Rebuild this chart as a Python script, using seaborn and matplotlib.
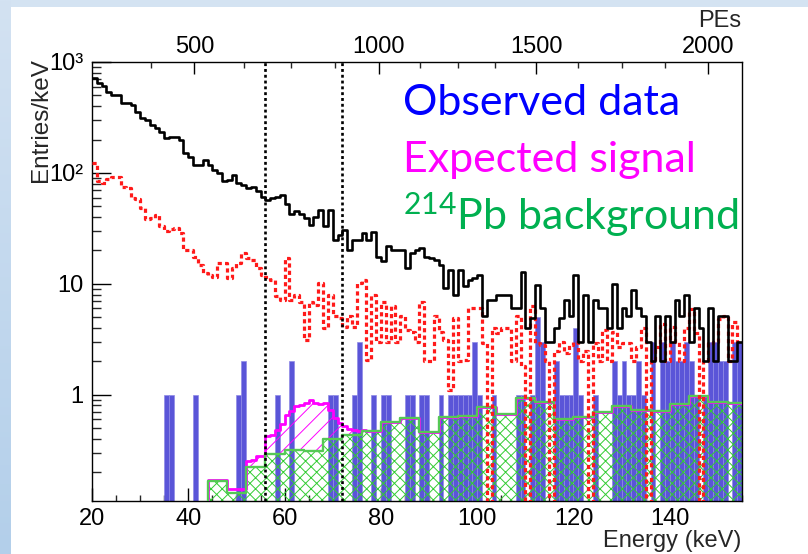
import numpy as np
import pandas as pd
import matplotlib
matplotlib.use("Agg")
import matplotlib.pyplot as plt
import seaborn as sns
from matplotlib.ticker import FixedLocator, MultipleLocator, NullFormatter, LogLocator
from matplotlib.colors import LinearSegmentedColormap, to_rgb

# ---------------- data (entries / keV, 1 keV bins from 20 to 155 keV) ----------------
bin_lo_kev = 20
bin_hi_kev = 155

data_spectrum = [
    713, 651, 608, 540, 504, 500, 425, 425, 410, 357,
    311, 300, 271, 253, 236, 205, 212, 212, 198, 150,
    140, 118, 118, 131, 118, 106, 99, 84, 86, 96,
    81, 78, 73, 75, 68, 61, 57, 59, 61, 63,
    52, 43, 45, 43, 39, 34, 40, 46, 33, 46,
    25, 27.6, 30.6, 20.2, 24.9, 24.9, 28.6, 24.9, 29.6, 17.6,
    15.9, 21.7, 20.2, 20.2, 20.2, 13.8, 18.9, 20.2, 21, 17.6,
    17, 16.5, 14.8, 9.1, 13.4, 8, 13.4, 9.5, 10.9, 11.2,
    12, 5.1, 7.2, 7.2, 8, 8, 8, 6.0, 6.0, 12.9,
    4.0, 4.9, 9.8, 6.0, 3.0, 3.0, 4.0, 4.9, 7.2, 5.1,
    12, 3.0, 8, 3.0, 7.2, 6.0, 6.0, 4.0, 10, 4.0,
    6.0, 5.1, 8.8, 6.0, 5.1, 3.0, 2.0, 5.1, 2.0, 5.1,
    3.0, 7.2, 5.1, 8, 3.0, 6.0, 4.0, 2.0, 6.0, 2.0,
    5.1, 5.1, 2.0, 2.0, 3.0,
]

dotted_spectrum = [
    122, 85, 81, 88, 92, 92, 75, 73, 59, 58,
    48, 38, 39, 42, 33, 30, 31, 32, 28.6, 20,
    20, 17.6, 14.8, 12.5, 12, 11.5, 15.4, 15.4, 11.3, 13.8,
    15.4, 18.9, 17, 16.5, 13.8, 12, 11.6, 10.9, 7.8, 7.2,
    17, 7.2, 8, 6.9, 3.1, 6.9, 6.5, 10.1, 4.0, 8.0,
    5.1, 4.9, 4.1, 5.1, 4.1, 10.1, 10.9, 2.07, 8.0, 3.0,
    6.9, 3.0, 6.3, 3.0, 5.1, 3.85, 3.7, 3.0, 6.9, 2.0,
    2.0, 5.1, 3.7, 3.1, 1.1, 4.9, 2.0, 2.07, 6.0, 6.0,
    6.0, 2.9, 0, 4.0, 3.6, 4.0, 4.0, 2.0, 5.1, 1.8,
    0, 6.3, 2.9, 2.8, 2.0, 0, 2.5, 3.0, 2.4, 2.8,
    3.0, 2.0, 2.5, 0, 2.9, 2.0, 3.8, 2.0, 3.7, 2.7,
    2.9, 2.9, 2.0, 2.7, 4.0, 0, 2.0, 2.7, 4.3, 2.0,
    4.1, 3.0, 2.0, 4.0, 5.9, 3.6, 0, 2.0, 2.9, 3.0,
    4.8, 5.1, 2.0, 4.5, 3.0,
]

observed_data = [
    0, 0, 0, 0, 0, 0, 0, 0, 0, 0,
    0, 0, 0, 0, 0, 1, 1, 0, 0, 0,
    0, 1, 0, 0, 0, 0, 0, 0, 0, 0,
    1, 2, 0, 0, 0, 0, 0, 0, 1, 0,
    0, 2, 0, 0, 0, 0, 0, 0, 0, 1,
    1, 0, 0, 0, 1, 3, 0, 0, 1, 0,
    1, 1, 0, 0, 0, 1, 1, 0, 1, 1,
    0, 0, 1, 0, 1, 1, 1, 1, 1, 3,
    1, 0, 0, 1, 0, 0, 0, 0, 1, 1,
    0, 1, 5, 3, 0, 0, 2, 1, 1, 1,
    4, 1, 0, 0, 1, 0, 0, 0, 2, 1,
    2, 1, 1, 2, 1, 0, 3, 0, 3, 2,
    3, 2, 2, 3, 2, 1, 0, 1, 3, 3,
    2, 2, 0, 3, 3,
]

# 214Pb background, 4 keV bins starting at 20 keV
pb214_bin_kev = 4
pb214_background = [
    0, 0, 0, 0, 0, 0, 0.166, 0.13, 0.224, 0.294,
    0.32, 0.31, 0.40, 0.436, 0.467, 0.563, 0.617, 0.46, 0.625, 0.645,
    0.775, 0.67, 0.93, 0.86, 0.60, 0.625, 0.695, 0.79, 0.73, 0.715,
    0.82, 0.965, 0.86, 0.835,
]

# expected signal, 1 keV bins starting at 44 keV
signal_start_kev = 44
expected_signal = [
    0.005, 0.005, 0.005, 0.005, 0.01, 0.01, 0.01, 0.01, 0.026, 0.036,
    0.056, 0.056, 0.126, 0.142, 0.19, 0.246, 0.34, 0.39, 0.47, 0.49,
    0.54, 0.58, 0.53, 0.52, 0.44, 0.33, 0.22, 0.155, 0.084, 0.054,
    0.044, 0.031, 0.01,
]

cut_window_kev = [56, 72]

x_ticks = [20, 40, 60, 80, 100, 120, 140]
y_ticks = [1, 10, 100, 1000]
y_tick_labels = ["1", "10", "10²", "10³"]

pe_major = [500, 1000, 1500, 2000]
pe_major_kev = [41.25, 79.54, 112.29, 147.92]
pe_minor_kev = [32.19, 51.54, 61.25, 70.42, 88.08, 96.0, 103.75, 121.04, 130.15, 138.96]

legend_labels = ["Observed data", "Expected signal", r"$^{214}$Pb background"]

# ---------------- style ----------------
BLUE_BAR = "#5a55d8"
BLUE_EDGE = "#8f8ae6"
MAGENTA = "#ff00ff"
GREEN_LINE = "#55c855"
GREEN_HATCH = "#33cc33"
RED = "#ff1a1a"

sns.set_theme(style="ticks")
plt.rcParams["font.family"] = ["Liberation Sans", "DejaVu Sans"]
plt.rcParams["mathtext.fontset"] = "custom"
plt.rcParams["mathtext.rm"] = "Lato"
plt.rcParams["mathtext.it"] = "Lato:italic"
plt.rcParams["mathtext.bf"] = "Lato:bold"
plt.rcParams["hatch.linewidth"] = 0.7
plt.rcParams["axes.linewidth"] = 1.0
plt.rcParams["axes.edgecolor"] = "black"

# ---------------- tables ----------------
edges = [float(v) for v in range(bin_lo_kev, bin_hi_kev + 1)]
centers = np.array(edges[:-1]) + 0.5
n_bins = len(centers)

fine = pd.DataFrame({
    "energy": centers,
    "data": data_spectrum,
    "dotted": dotted_spectrum,
    "observed": observed_data,
})

pb_edges = [float(bin_lo_kev + pb214_bin_kev * i) for i in range(len(pb214_background) + 1)]
pb_centers = np.array(pb_edges[:-1]) + pb214_bin_kev / 2
pb_per_fine_bin = np.repeat(pb214_background, pb214_bin_kev)[:n_bins]
sig_per_fine_bin = np.zeros(n_bins)
i0 = signal_start_kev - bin_lo_kev
sig_per_fine_bin[i0:i0 + len(expected_signal)] = expected_signal

stack = pd.DataFrame({
    "energy": np.concatenate([centers, centers]),
    "w": np.concatenate([pb_per_fine_bin, sig_per_fine_bin]),
    "comp": ["bkg"] * n_bins + ["sig"] * n_bins,
})

# ---------------- figure ----------------
fig = plt.figure(figsize=(8.08, 5.54), dpi=100)
fig.patch.set_facecolor("white")

# light-blue slide decoration
deco = fig.add_axes([0, 0, 11 / 808, 1])
deco.imshow(np.linspace(0, 1, 200)[:, None], aspect="auto",
            cmap=LinearSegmentedColormap.from_list("d", ["#d3e2f2", "#b3cfea"]),
            extent=[0, 1, 0, 1])
deco.set_axis_off()
fig.patches.append(plt.Rectangle((0, 1 - 7 / 554), 1, 7 / 554, transform=fig.transFigure,
                                 facecolor="#d4e3f2", edgecolor="none", zorder=-1))

ax = fig.add_axes([92 / 808, 53 / 554, 650 / 808, 439 / 554])
ax.set_yscale("log")

# observed data bars
sns.histplot(data=fine, x="energy", weights="observed", bins=edges, element="bars",
             fill=True, color=BLUE_BAR, alpha=1, edgecolor=BLUE_EDGE, linewidth=0.5,
             ax=ax, zorder=1)

# stacked background + signal hatching (background at the bottom of the stack)
before = set(ax.collections)
sns.histplot(data=stack, x="energy", weights="w", hue="comp", hue_order=["sig", "bkg"],
             multiple="stack", element="step", fill=True, bins=edges,
             palette={"bkg": "#00ff00", "sig": "#ff00ff"}, legend=False, ax=ax)
for c in ax.collections:
    if c in before:
        continue
    fc = np.array(c.get_facecolor()[0][:3])
    if np.allclose(fc, to_rgb("#00ff00"), atol=0.05):
        c.set_hatch("xxx")
        c.set_edgecolor(GREEN_HATCH)
        c.set_zorder(2.2)
    else:
        c.set_hatch("//")
        c.set_edgecolor(MAGENTA)
        c.set_zorder(2.1)
    c.set_facecolor("none")
    c.set_linewidth(0)

# outlines
sns.histplot(x=centers, weights=pb_per_fine_bin + sig_per_fine_bin, bins=edges,
             element="step", fill=False, color=MAGENTA, linewidth=2.0, ax=ax, zorder=3)
sns.histplot(x=pb_centers, weights=pb214_background, bins=pb_edges,
             element="step", fill=False, color=GREEN_LINE, linewidth=1.7, ax=ax, zorder=3.5)
sns.histplot(data=fine, x="energy", weights="dotted", bins=edges, element="step",
             fill=False, color=RED, linewidth=2.3, linestyle=(0, (1.3, 1.0)), ax=ax, zorder=4)
sns.histplot(data=fine, x="energy", weights="data", bins=edges, element="step",
             fill=False, color="black", linewidth=1.9, ax=ax, zorder=5)

for e in cut_window_kev:
    ax.axvline(e, color="black", linewidth=1.9, linestyle=(0, (1.1, 1.1)), zorder=6)

ax.set_xlim(bin_lo_kev, bin_hi_kev)
ax.set_ylim(0.11, 1000)
ax.set_xlabel("")
ax.set_ylabel("")
ax.grid(False)

ax.set_xticks(x_ticks, labels=[str(v) for v in x_ticks])
ax.xaxis.set_minor_locator(MultipleLocator(5))
ax.yaxis.set_major_locator(FixedLocator(y_ticks))
ax.set_yticks(y_ticks, labels=y_tick_labels)
ax.yaxis.set_minor_locator(LogLocator(base=10, subs=np.arange(2, 10)))
ax.yaxis.set_minor_formatter(NullFormatter())

ax.tick_params(axis="x", which="major", direction="in", length=9.5, width=1.0,
               labelsize=17, pad=5, top=False, colors="black")
ax.tick_params(axis="x", which="minor", direction="in", length=4.5, width=1.0, top=False)
ax.tick_params(axis="y", which="major", direction="in", length=14, width=1.0,
               labelsize=17, pad=6, right=False, colors="black")
ax.tick_params(axis="y", which="minor", direction="in", length=6.5, width=1.0, right=False)
for s in ax.spines.values():
    s.set_visible(True)
    s.set_color("black")
    s.set_linewidth(1.0)

# top PE axis
ax2 = ax.twiny()
ax2.set_xlim(ax.get_xlim())
ax2.set_xticks(pe_major_kev, labels=[str(p) for p in pe_major])
ax2.set_xticks(pe_minor_kev, minor=True)
ax2.tick_params(axis="x", which="major", direction="in", length=8.5, width=1.0,
                labelsize=17, pad=3, top=True, bottom=False, colors="black")
ax2.tick_params(axis="x", which="minor", direction="in", length=4.5, width=1.0,
                top=True, bottom=False)
ax2.grid(False)
for s in ax2.spines.values():
    s.set_visible(False)

# titles
fig.text(741 / 808, 1 - 27 / 554, "PEs", ha="right", va="baseline", fontsize=17)
fig.text(741 / 808, 1 - 547 / 554, "Energy (keV)", ha="right", va="baseline", fontsize=17)
fig.text(41 / 808, 1 - 58 / 554, "Entries/keV", rotation=90, ha="center", va="top", fontsize=17.5)

# coloured legend text
legend_colors = ["#0000ff", "#ff00ff", "#00b050"]
legend_baselines = [115, 172, 230]
for lab, col, yb in zip(legend_labels, legend_colors, legend_baselines):
    fig.text(403 / 808, 1 - yb / 554, lab, color=col, fontsize=31, family="Lato",
             va="baseline", ha="left", zorder=10)

fig.savefig("out.png", dpi=100)
